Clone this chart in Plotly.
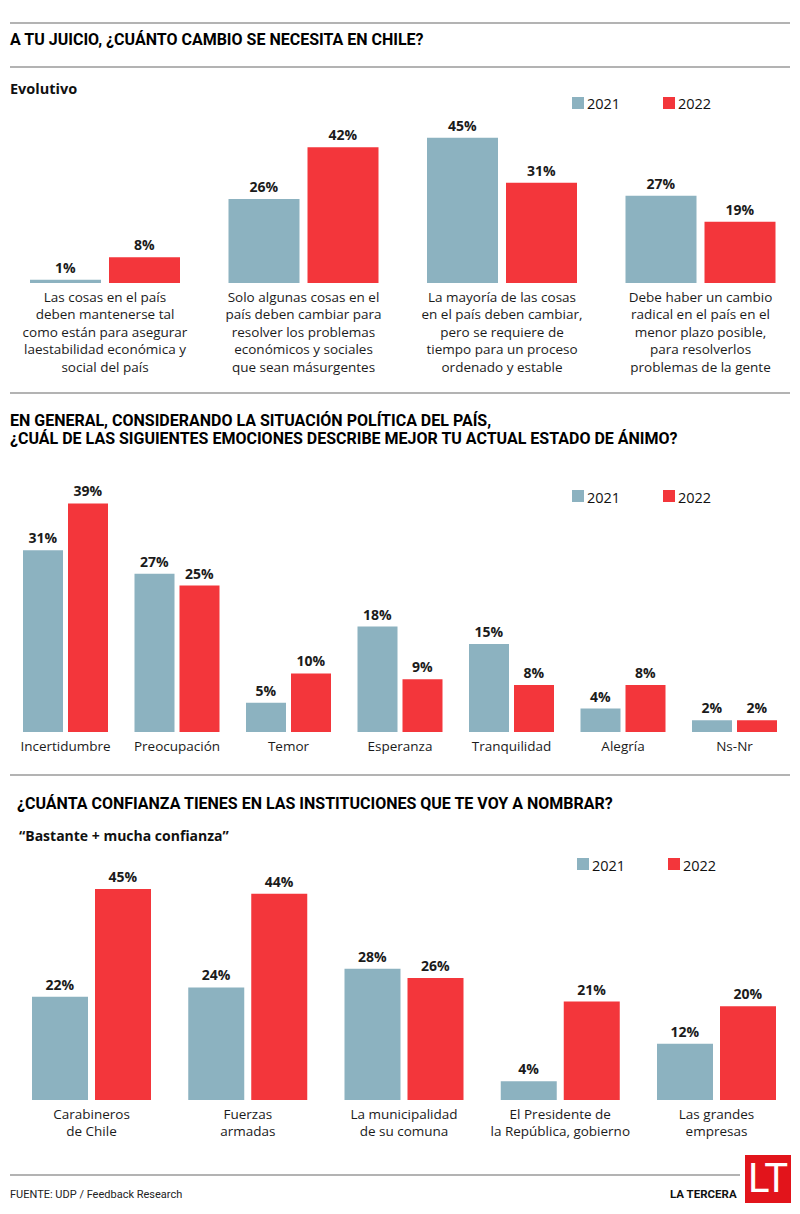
import plotly.graph_objects as go

W, H = 800, 1214

# ---------------- data ----------------
s1_categories = ["mantener", "algunas", "mayoria", "radical"]
s1_ticktext = [
    "Las cosas en el país<br>deben mantenerse tal<br>como están para asegurar<br>laestabilidad económica y<br>social del país",
    "Solo algunas cosas en el<br>país deben cambiar para<br>resolver los problemas<br>económicos y sociales<br>que sean másurgentes",
    "La mayoría de las cosas<br>en el país deben cambiar,<br>pero se requiere de<br>tiempo para un proceso<br>ordenado y estable",
    "Debe haber un cambio<br>radical en el país en el<br>menor plazo posible,<br>para resolverlos<br>problemas de la gente",
]
s1_2021 = [1, 26, 45, 27]
s1_2022 = [8, 42, 31, 19]

s2_categories = ["Incertidumbre", "Preocupación", "Temor", "Esperanza", "Tranquilidad", "Alegría", "Ns-Nr"]
s2_2021 = [31, 27, 5, 18, 15, 4, 2]
s2_2022 = [39, 25, 10, 9, 8, 8, 2]

s3_categories = ["Carabineros", "Fuerzas", "Municipalidad", "Presidente", "Empresas"]
s3_ticktext = [
    "Carabineros<br>de Chile",
    "Fuerzas<br>armadas",
    "La municipalidad<br>de su comuna",
    "El Presidente de<br>la República, gobierno",
    "Las grandes<br>empresas",
]
s3_2021 = [22, 24, 28, 4, 12]
s3_2022 = [45, 44, 26, 21, 20]

series_names = ["2021", "2022"]

# ---------------- style ----------------
BLUE = "#8CB2C0"
RED = "#F3363B"
TXT = "#1b1b1b"
GRAY = "#9a9a9a"
FONT = "Open Sans"
TITLE_FONT = "Liberation Sans Narrow, Roboto, sans-serif"


def py(px):
    return 1 - px / H


def px_x(px):
    return px / W


fig = go.Figure()

sections = [
    # categories, ticktext, v2021, v2022, axis suffix, center0, spacing, base_px, top_px, px_per_unit, width, offblue, offred
    (s1_categories, s1_ticktext, s1_2021, s1_2022, "", 105.0, 198.5, 283, 120, 3.23, 71, -75, 4),
    (s2_categories, s2_categories, s2_2021, s2_2022, "2", 65.5, 111.5, 732, 480, 5.86, 40, -42.5, 2.5),
    (s3_categories, s3_ticktext, s3_2021, s3_2022, "3", 91.5, 156.25, 1100, 870, 4.69, 56, -59.5, 3.5),
]

for cats, ticks, v1, v2, sfx, c0, sp, base, top, ppu, wpx, ob, orr in sections:
    xa = "x" + sfx
    ya = "y" + sfx
    for name, vals, col, off in ((series_names[0], v1, BLUE, ob), (series_names[1], v2, RED, orr)):
        fig.add_trace(go.Bar(
            x=cats, y=vals, name=name, xaxis=xa, yaxis=ya,
            marker=dict(color=col, line=dict(width=0)),
            width=wpx / sp, offset=off / sp,
            texttemplate="%{y}%", textposition="outside", constraintext="none",
            textfont=dict(family=FONT, size=14, color=TXT, weight="bold"),
            cliponaxis=False, showlegend=False, hoverinfo="skip",
        ))
    lo = -c0 / sp
    hi = (W - c0) / sp
    xkey = "xaxis" + sfx
    ykey = "yaxis" + sfx
    fig.layout[xkey] = dict(
        domain=[0, 1], anchor=ya, type="category", range=[lo, hi],
        tickmode="array", tickvals=cats, ticktext=ticks,
        showgrid=False, zeroline=False, showline=False, ticks="",
        ticklabelstandoff=4,
        tickfont=dict(family=FONT, size=13.5, color=TXT),
        categoryorder="array", categoryarray=cats, fixedrange=True,
    )
    fig.layout[ykey] = dict(
        domain=[py(base), py(top)], anchor=xa, range=[0, (base - top) / ppu],
        showgrid=False, zeroline=False, showline=False, showticklabels=False, ticks="",
        fixedrange=True,
    )

fig.update_layout(barmode="overlay")

shapes = []
annotations = []

# horizontal rules
for y, x1 in ((23, 790), (67, 790), (393, 790), (775, 790), (1175, 740)):
    shapes.append(dict(type="line", xref="paper", yref="paper",
                       x0=px_x(10), x1=px_x(x1), y0=py(y), y1=py(y),
                       line=dict(color=GRAY, width=1.5)))


def text(x, y, s, size, bold=False, family=FONT, color=TXT, xanchor="left"):
    annotations.append(dict(
        xref="paper", yref="paper", x=px_x(x), y=py(y), text=s, showarrow=False,
        xanchor=xanchor, yanchor="middle",
        font=dict(family=family, size=size, color=color, weight="bold" if bold else "normal"),
    ))


# titles
text(8, 39, "A TU JUICIO, ¿CUÁNTO CAMBIO SE NECESITA EN CHILE?", 16, True, TITLE_FONT, "#000")
text(8, 89, "Evolutivo", 14.5, True, FONT, "#111")
text(8, 420, "EN GENERAL, CONSIDERANDO LA SITUACIÓN POLÍTICA DEL PAÍS,", 16, True, TITLE_FONT, "#000")
text(8, 439, "¿CUÁL DE LAS SIGUIENTES EMOCIONES DESCRIBE MEJOR TU ACTUAL ESTADO DE ÁNIMO?", 16, True, TITLE_FONT, "#000")
text(15, 803, "¿CUÁNTA CONFIANZA TIENES EN LAS INSTITUCIONES QUE TE VOY A NOMBRAR?", 16, True, TITLE_FONT, "#000")
text(17, 835, "“Bastante + mucha confianza”", 14, True, FONT, "#111")

# manual legends
for ly, lx in ((103, 572), (496, 572), (864, 577)):
    for i, (nm, col) in enumerate(zip(series_names, (BLUE, RED))):
        x0 = lx + i * 91
        shapes.append(dict(type="rect", xref="paper", yref="paper",
                           x0=px_x(x0), x1=px_x(x0 + 12), y0=py(ly + 6), y1=py(ly - 6),
                           fillcolor=col, line=dict(width=0)))
        text(x0 + 13, ly + 1, nm, 14.5, False, FONT, "#111")

# footer
text(8, 1194, "FUENTE: UDP / Feedback Research", 11, False, "Liberation Sans Narrow, Roboto, sans-serif", "#222")
text(739, 1194, "LA TERCERA", 11.5, True, "Liberation Sans Narrow, Roboto, sans-serif", "#111", xanchor="right")
shapes.append(dict(type="rect", xref="paper", yref="paper",
                   x0=px_x(745), x1=px_x(791), y0=py(1203), y1=py(1155),
                   fillcolor="#E2141B", line=dict(width=0)))
annotations.append(dict(xref="paper", yref="paper", x=px_x(768), y=py(1178), text="LT",
                        showarrow=False, xanchor="center", yanchor="middle",
                        font=dict(family="Liberation Sans Narrow, Roboto, sans-serif", size=40, color="white")))

fig.update_layout(
    width=W, height=H,
    margin=dict(l=0, r=0, t=0, b=0),
    paper_bgcolor="white", plot_bgcolor="white",
    shapes=shapes, annotations=annotations,
    showlegend=False,
    font=dict(family=FONT, color=TXT),
)

fig.write_html("out.html", config={"displayModeBar": False},
               post_script="document.body.style.margin='0';document.body.style.padding='0';")
